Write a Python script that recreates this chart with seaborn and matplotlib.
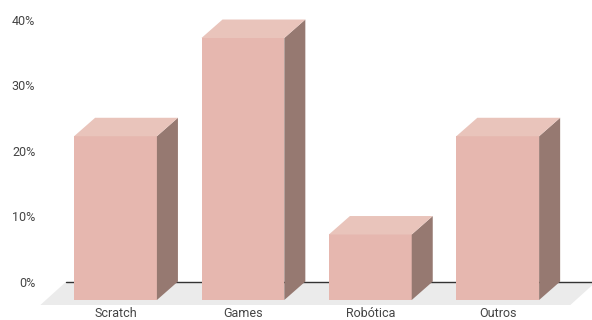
import matplotlib
matplotlib.use("Agg")
import matplotlib.pyplot as plt
from matplotlib.patches import Polygon
import seaborn as sns

# data
categories = ["Scratch", "Games", "Robótica", "Outros"]
values = [25, 40, 10, 25]
tick_values = [0, 10, 20, 30, 40]

front_color = "#e6b7af"
top_color = "#e9c4bb"
side_color = "#967971"
floor_color = "#ebebeb"

sns.set_style("white")
plt.rcParams["font.family"] = ["Roboto", "DejaVu Sans"]

fig = plt.figure(figsize=(5.92, 3.2), dpi=100)
ax = fig.add_axes([38 / 592, 15 / 320, 1 - 38 / 592, 1 - 15 / 320])

sns.barplot(x=categories, y=values, color=front_color, width=0.65,
            saturation=1, edgecolor="none", ax=ax, zorder=3)

# 3d depth (data units)
dx = 0.165
dz = 2.82
dz_axis = 2.75

n = len(categories)
ax.set_xlim(-0.6083, 3.74)
ax.set_ylim(-0.763, 45.8)

# floor
fl, fr = -0.59, n - 1 + 0.57
floor = Polygon([(fl, -0.763), (fr, -0.763), (fr + 0.2, dz_axis), (fl + 0.2, dz_axis)],
                closed=True, facecolor=floor_color, edgecolor="none", zorder=1)
ax.add_patch(floor)
ax.plot([fl + 0.2, 3.74], [dz_axis, dz_axis], color="#333333", lw=1, zorder=2)

for p in list(ax.patches):
    if p is floor:
        continue
    x0 = p.get_x()
    x1 = x0 + p.get_width()
    h = p.get_height()
    side = Polygon([(x1, 0), (x1 + dx, dz), (x1 + dx, h + dz), (x1, h)],
                   closed=True, facecolor=side_color, edgecolor="none", zorder=3)
    top = Polygon([(x0, h), (x0 + dx, h + dz), (x1 + dx, h + dz), (x1, h)],
                  closed=True, facecolor=top_color, edgecolor="none", zorder=3)
    ax.add_patch(side)
    ax.add_patch(top)

ax.set_yticks([v + dz_axis for v in tick_values])
ax.set_yticklabels([f"{v}%" for v in tick_values])
ax.tick_params(axis="both", length=0, labelsize=9, labelcolor="#444444")
ax.tick_params(axis="y", pad=2)
ax.tick_params(axis="x", pad=1.5)
ax.set_xlabel("")
ax.set_ylabel("")
sns.despine(ax=ax, left=True, bottom=True)

fig.savefig("out.png", dpi=100)
